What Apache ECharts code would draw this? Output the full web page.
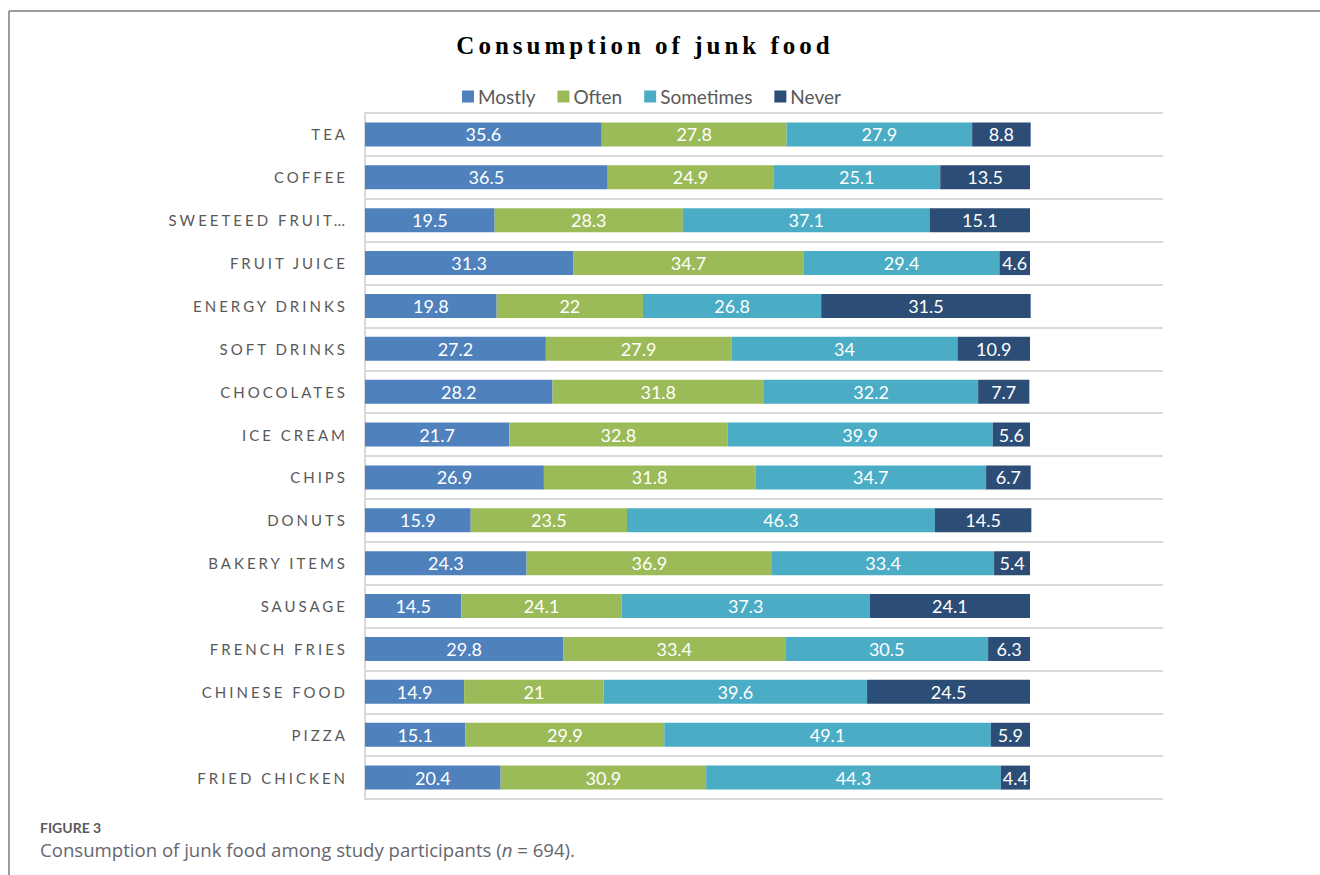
<!DOCTYPE html>
<html>
<head>
<meta charset="utf-8">
<script src="https://cdn.jsdelivr.net/npm/echarts@6/dist/echarts.min.js"></script>
<style>
  html, body { margin: 0; padding: 0; background: #fff; }
  #chart { width: 1320px; height: 875px; }
  #chart text[style*="axiscat"] { letter-spacing: 3px; }
  #chart text[style*="ttlfont"] { letter-spacing: 4px; }
</style>
</head>
<body>
<div id="chart"></div>
<script>
const categories = ["TEA", "COFFEE", "SWEETEED FRUIT…", "FRUIT JUICE", "ENERGY DRINKS", "SOFT DRINKS", "CHOCOLATES", "ICE CREAM", "CHIPS", "DONUTS", "BAKERY ITEMS", "SAUSAGE", "FRENCH FRIES", "CHINESE FOOD", "PIZZA", "FRIED CHICKEN"];
const mostly    = [35.6, 36.5, 19.5, 31.3, 19.8, 27.2, 28.2, 21.7, 26.9, 15.9, 24.3, 14.5, 29.8, 14.9, 15.1, 20.4];
const often     = [27.8, 24.9, 28.3, 34.7, 22, 27.9, 31.8, 32.8, 31.8, 23.5, 36.9, 24.1, 33.4, 21, 29.9, 30.9];
const sometimes = [27.9, 25.1, 37.1, 29.4, 26.8, 34, 32.2, 39.9, 34.7, 46.3, 33.4, 37.3, 30.5, 39.6, 49.1, 44.3];
const never     = [8.8, 13.5, 15.1, 4.6, 31.5, 10.9, 7.7, 5.6, 6.7, 14.5, 5.4, 24.1, 6.3, 24.5, 5.9, 4.4];
const seriesNames = ["Mostly", "Often", "Sometimes", "Never"];
const colors = ["#4F81BD", "#9BBB59", "#4BACC6", "#2C4D75"];

const chart = echarts.init(document.getElementById('chart'), null, { renderer: 'svg' });
const dataSets = [mostly, often, sometimes, never];
const option = {
  animation: false,
  color: colors,
  title: {
    text: 'Consumption of junk food',
    left: 640, top: 28, textAlign: 'center',
    textStyle: { fontFamily: '"Liberation Serif", "Times New Roman", ttlfont', fontWeight: 'bold', fontSize: 25, color: '#000' }
  },
  legend: {
    data: seriesNames,
    top: 82, left: 457,
    icon: 'rect', itemWidth: 12, itemHeight: 12, itemGap: 22,
    textStyle: { fontFamily: 'Lato', fontSize: 19, color: '#595959', padding: [0, 0, 0, -1] }
  },
  grid: { left: 365, right: 157, top: 113, bottom: 76, containLabel: false },
  xAxis: { type: 'value', min: 0, max: 120, show: false },
  yAxis: {
    type: 'category', data: categories, inverse: true,
    axisLine: { show: true, lineStyle: { color: '#d9d9d9', width: 2 } },
    axisTick: { show: false },
    splitLine: { show: true, lineStyle: { color: '#d9d9d9', width: 2 } },
    axisLabel: { fontFamily: 'Lato, axiscat', fontSize: 15, color: '#595959', margin: 17 }
  },
  graphic: [
    { type: 'line', shape: { x1: 9, y1: 11, x2: 1320, y2: 11 }, style: { stroke: '#7a7a80', lineWidth: 1.5 } },
    { type: 'line', shape: { x1: 9, y1: 11, x2: 9, y2: 875 }, style: { stroke: '#7a7a80', lineWidth: 1.5 } },
    { type: 'text', left: 40, top: 820, style: { text: 'FIGURE 3', font: 'bold 14px Lato', fill: '#5a5a60' } },
    { type: 'text', left: 40, top: 840, style: {
        text: '{a|Consumption of junk food among study participants (}{i|n}{a| = 694).}',
        rich: {
          a: { fontFamily: '"Open Sans"', fontSize: 18.6, fill: '#66666c' },
          i: { fontFamily: '"Open Sans"', fontSize: 18.6, fontStyle: 'italic', fill: '#66666c' }
        }
      } }
  ],
  series: seriesNames.map((name, i) => ({
    name: name, type: 'bar', stack: 'total', barWidth: 24,
    data: dataSets[i],
    itemStyle: { color: colors[i] },
    label: { show: true, position: 'inside', color: '#fff', fontFamily: 'Lato', fontSize: 18 }
  }))
};
chart.setOption(option);
</script>
</body>
</html>
